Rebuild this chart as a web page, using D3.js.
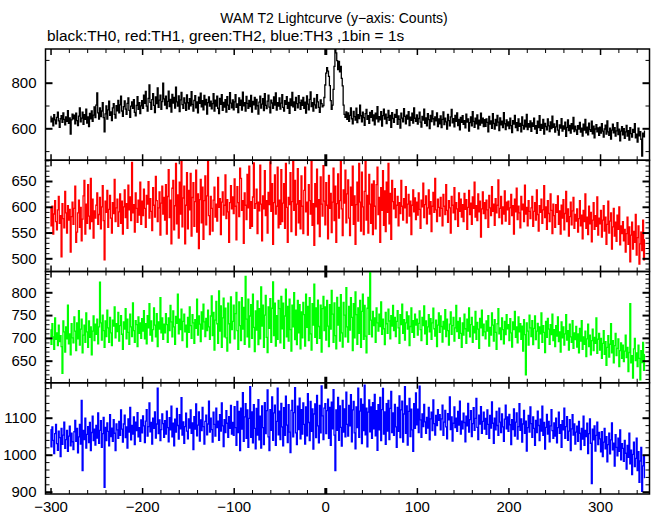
<!DOCTYPE html>
<html><head><meta charset="utf-8">
<script src="https://cdn.jsdelivr.net/npm/d3@7"></script>
<style>
html,body{margin:0;padding:0;background:#fff;}
svg{display:block;font-family:"Liberation Sans",Arial,Helvetica,sans-serif;}
</style></head><body><svg id="chart" width="652" height="515"></svg>
<script>
// ---- data (1 bin = 1 s, first bin at startTime) ----
const startTime = -300;
const th0 = [
652,628,645,611,660,637,619,648,671,633,604,642,655,626,668,639,615,650,631,677,622,646,575,637,662,
641,658,620,667,634,612,653,689,628,645,671,617,660,639,684,623,650,607,665,642,676,631,658,694,647,
702,755,668,640,689,651,676,712,647,585,663,698,640,681,719,657,672,634,690,708,661,645,699,677,722,
668,703,741,676,652,695,720,684,661,709,733,679,648,697,716,688,726,670,655,701,739,683,712,664,698,
721,688,745,709,762,697,676,731,790,714,683,726,752,701,669,738,708,777,692,724,745,683,717,798,729,
702,741,686,718,763,695,727,671,749,710,736,689,781,716,697,742,673,725,758,704,688,733,711,679,746,
712,684,730,698,761,705,675,722,743,690,716,668,737,709,754,694,721,681,744,703,727,662,713,738,697,
719,685,708,752,676,723,697,741,688,664,731,705,748,679,714,693,726,671,739,702,683,756,710,690,725,
681,716,748,692,707,669,733,701,724,680,759,698,713,675,740,709,687,722,695,744,671,718,703,736,684,
727,699,662,715,741,689,706,730,678,752,701,686,719,745,693,668,724,711,687,738,702,755,680,712,697,
733,684,710,748,692,675,721,705,739,688,714,666,729,700,757,694,716,679,735,708,690,743,712,683,724,
701,736,688,715,667,742,706,681,727,760,695,712,676,731,703,689,748,716,692,670,725,708,694,700,735,
790,842,866,851,828,787,721,683,702,771,872,946,931,897,858,893,848,871,819,786,702,661,648,672,639,
668,631,657,690,642,619,674,651,636,688,625,660,643,702,655,628,671,647,613,664,683,639,656,622,670,
648,677,633,659,615,666,642,695,628,651,637,673,610,656,684,640,662,621,648,679,635,657,604,669,643,
626,661,648,682,617,654,639,601,667,645,628,686,652,619,658,640,673,612,649,635,667,623,690,644,630,
659,618,643,671,627,605,652,636,684,622,646,611,664,638,599,657,629,676,642,615,650,633,668,608,641,
620,654,603,639,672,616,645,628,597,661,634,611,650,683,624,642,606,657,630,668,612,639,593,648,626,
655,617,634,602,662,627,641,588,625,650,611,673,630,604,644,620,659,598,636,614,667,623,645,607,638,
609,641,626,585,652,618,633,600,664,621,596,639,612,657,627,590,646,615,631,603,669,620,594,637,611,
628,599,645,612,581,634,618,657,603,625,590,641,609,622,584,650,613,597,636,606,661,594,620,605,632,
587,624,609,645,596,612,578,631,603,656,591,617,600,639,575,622,608,593,641,611,586,628,599,653,604,
619,583,606,634,592,570,615,601,642,588,611,596,627,565,604,637,590,613,579,620,598,648,586,609,593,
574,612,597,626,583,601,566,618,592,639,580,605,571,623,594,587,631,576,609,558,597,616,584,602,569,
605,579,620,588,561,597,614,575,632,584,569,601,553,592,618,580,603,566,589,625,572,596,545,588,607,
571,598,556,584,613,566,590,548,603,577,561,595,582,620,558,574,539,601,567,585,552,478,579,563,588
];
const th1 = [
598,563,601,547,586,612,571,555,594,620,568,583,503,606,577,559,630,588,549,602,574,595,512,581,609,
566,597,640,531,551,588,613,560,599,534,576,621,651,547,605,568,643,582,557,655,571,615,539,592,578,
603,627,566,585,618,557,600,641,573,497,611,589,632,560,595,622,578,549,608,587,653,571,598,615,562,
590,625,568,611,547,600,633,579,606,558,642,594,619,573,686,588,604,551,627,597,570,613,584,648,566,
611,583,634,597,560,622,605,649,578,616,591,554,637,603,580,659,612,571,598,629,545,607,640,586,618,
574,643,547,620,672,579,613,528,636,651,555,602,684,567,623,539,648,586,689,561,617,640,528,603,666,
557,632,594,665,543,618,647,562,610,671,551,625,519,614,653,569,638,537,612,660,565,621,688,583,546,
620,597,553,613,638,580,605,572,657,599,616,546,609,629,584,603,662,577,614,590,531,608,641,596,619,
587,654,601,536,639,608,581,675,655,593,612,529,627,603,575,663,598,679,558,610,562,619,685,597,606,
634,548,609,592,681,605,534,621,596,670,583,612,549,628,604,687,591,645,527,608,662,586,601,677,559,
613,566,672,571,607,645,558,684,599,531,618,604,666,552,610,690,593,651,545,605,674,569,612,557,660,
601,548,632,677,590,609,545,643,612,586,688,564,606,525,645,600,673,567,614,542,658,605,582,680,611,
565,647,603,538,661,597,626,550,609,675,573,640,531,606,664,578,612,688,596,544,633,607,671,569,625,
652,578,544,638,603,679,566,621,527,604,648,572,684,609,553,667,600,546,630,690,574,622,549,663,605,
568,644,546,650,601,557,643,677,585,618,531,637,593,670,564,631,552,648,589,684,567,626,537,651,610,
596,635,579,603,620,563,608,587,651,601,574,616,598,639,569,605,624,582,611,546,603,633,590,617,575,
609,584,627,595,558,613,600,646,579,604,621,567,598,633,586,610,552,601,628,589,655,594,571,615,599,
582,618,597,563,624,601,585,643,593,570,612,598,549,620,603,588,637,575,608,596,562,627,591,615,580,
604,571,626,595,614,556,599,632,585,607,566,619,597,648,580,602,573,625,590,611,541,596,629,587,608,
577,613,594,560,622,598,583,639,591,605,564,616,588,603,652,579,597,620,567,600,586,631,572,609,594,
611,566,598,624,583,602,547,615,590,636,575,601,588,559,620,594,605,571,642,586,599,563,612,591,577,
598,620,562,591,608,574,633,585,553,602,589,615,568,594,641,579,600,556,612,587,571,625,593,548,605,
583,560,604,589,621,566,592,547,603,578,614,555,587,630,571,596,543,581,609,565,592,618,558,585,572,
596,551,577,612,563,584,538,593,571,625,558,580,546,601,567,589,532,574,608,556,583,562,619,545,578,
567,593,541,574,602,553,580,527,566,611,549,572,588,518,561,597,543,570,533,584,556,600,526,563,548,
571,534,556,512,548,580,527,561,493,545,570,518,552,531,585,506,540,563,489,528,551,515,574,497,536
];
const th2 = [
718,686,731,702,675,744,697,711,683,728,692,705,681,622,737,713,669,724,698,772,687,709,663,731,700,
689,746,715,672,733,698,760,684,719,741,667,706,728,690,755,713,679,737,701,724,663,715,748,694,730,
708,741,687,724,822,733,695,750,716,679,737,703,761,722,690,745,711,683,739,726,768,700,731,714,756,
693,727,749,708,675,735,719,764,698,741,712,686,752,724,703,777,716,690,738,729,681,746,710,733,699,
742,715,760,698,731,687,749,722,775,706,737,693,718,766,728,702,753,681,735,719,788,711,744,697,730,
711,753,729,690,744,716,771,735,702,759,724,686,747,732,796,709,741,718,763,694,736,752,713,728,680,
745,712,768,727,699,751,733,688,740,721,785,706,748,730,692,757,719,774,735,703,743,716,761,724,697,
748,792,705,756,673,739,780,731,688,803,715,770,679,744,787,702,765,700,671,776,731,689,790,718,736,
772,698,753,800,716,675,779,727,694,788,719,767,686,835,741,702,785,680,748,773,699,796,723,670,759,
717,781,685,764,698,812,726,772,679,750,793,701,668,768,721,786,690,765,823,705,776,682,749,697,782,
764,689,791,720,776,677,748,807,702,769,693,785,718,671,772,724,799,696,761,685,782,711,773,676,757,
700,778,751,682,796,723,769,694,788,709,673,775,728,818,701,766,688,783,725,699,772,669,764,791,716,
768,695,782,726,681,773,719,804,752,690,777,705,676,789,728,767,693,795,711,680,778,750,702,810,724,
691,769,717,788,745,672,775,700,801,751,686,766,710,782,679,758,796,697,771,704,667,765,789,708,848,
739,702,758,727,744,690,766,733,715,752,725,779,708,741,720,685,756,731,710,763,737,698,749,726,771,
716,745,703,736,760,722,688,751,729,774,710,740,695,733,757,719,748,683,725,766,712,738,701,752,728,
741,706,732,759,718,694,745,727,770,709,737,686,724,751,713,742,697,733,765,720,704,739,681,728,755,
712,748,725,691,736,719,762,703,741,716,684,730,757,708,727,745,693,722,771,714,736,699,744,710,679,
733,706,752,720,688,741,715,766,702,729,745,690,725,711,758,697,734,719,677,743,722,761,705,730,713,
698,737,715,749,682,723,706,755,728,693,740,712,675,731,764,709,722,696,744,718,687,736,707,751,720,
729,694,742,711,680,735,718,758,701,724,689,746,713,731,697,726,671,740,707,619,733,715,684,750,722,
703,738,685,721,748,696,715,732,677,724,709,755,690,727,712,668,736,701,743,719,686,729,707,752,694,
718,681,727,704,746,692,713,669,735,700,724,684,709,751,695,716,673,730,702,690,738,677,711,696,725,
680,709,667,721,693,738,675,702,686,715,659,698,730,681,706,663,694,719,672,701,688,744,666,697,710,
673,699,655,688,716,664,692,640,679,705,658,686,731,667,694,645,683,710,661,677,698,637,672,689,655,
684,648,671,706,657,679,626,668,775,645,661,612,676,699,650,667,637,684,655,608,672,646,690,629,663
];
const th3 = [
1068,1021,1075,1039,1003,1057,1082,1030,1012,1064,1046,995,1071,1028,1053,1088,1017,1041,1066,1009,1050,1077,1024,1058,1035,
1014,1062,1093,1036,1071,1005,1048,1082,1029,1147,957,1066,1041,1099,1018,1055,1076,1033,1087,1011,1060,1104,1038,1069,1026,
1079,1045,1113,1031,1066,1092,1020,1057,1101,912,1074,1038,1086,1063,1024,1108,1049,1072,1036,1095,1058,1011,1083,1067,1044,
1090,1052,1121,1069,1034,1083,1107,1046,1075,1018,1097,1061,1128,1040,1079,1056,1102,1027,1088,1065,1114,1048,1073,1036,1094,
1059,1105,1078,1033,1091,1122,1050,1076,1140,1062,1087,1029,1099,1071,1116,1045,1083,1180,1057,1094,1038,1068,1110,1084,1047,
1092,1056,1118,1073,1035,1100,1067,1131,1048,1085,1024,1096,1061,1125,1079,1042,1108,1070,1154,1053,1089,1031,1076,1112,1064,
1043,1097,1072,1121,1058,1086,1014,1103,1069,1137,1051,1080,1116,1037,1094,1065,1128,1076,1029,1090,1107,1054,1083,1145,1061,
1099,1068,1034,1115,1082,1050,1126,1073,1091,1039,1108,1064,1140,1078,1022,1095,1060,1119,1085,1047,1103,1071,1133,1056,1087,
1052,1130,1073,1025,1144,1060,1117,1011,1126,1069,1168,1036,1102,1138,1044,1121,1020,1098,1184,1047,1116,1032,1135,1071,1016,
1125,1053,1149,1040,1104,1018,1132,1073,1027,1141,1057,1119,1175,1048,1011,1122,1066,1156,1039,1113,1134,1025,1090,1180,1054,
1118,1041,1139,1075,1024,1127,1052,1158,1080,1033,1135,1061,1006,1120,1147,1048,1114,1181,1059,1027,1131,1068,1153,1043,1122,
1056,1140,1082,1029,1129,1051,1165,1087,1038,1144,1063,1124,1015,1110,1137,1046,1160,1078,1032,1133,1059,1186,1105,1041,1126,
1138,1057,1119,1150,1044,1128,1025,1142,1070,1176,1053,957,1121,1066,1155,1039,1132,1074,1023,1147,1061,1124,1048,1169,1082,
1050,1133,1078,1162,1035,1121,1144,1059,1016,1129,1073,1180,1047,1118,1151,1030,1136,1065,1188,1054,1126,1021,1115,1148,1062,
1129,1044,1141,1070,1163,1051,1119,1012,1135,1067,1155,1038,1122,1179,1056,1116,1028,1138,1064,1147,1041,1125,1171,1060,1113,
1052,1136,1075,1020,1128,1063,1159,1046,1121,1145,1034,1110,1184,1058,1132,1026,1117,1152,1049,1123,1067,1009,1138,1071,1167,
1081,1123,1060,1185,1094,1047,1110,1076,1136,1089,1058,1101,1072,1128,1040,1097,1115,1065,1148,1084,1053,1106,1079,1122,1093,
1108,1067,1097,1134,1052,1088,1120,1075,1043,1111,1094,1156,1068,1102,1037,1085,1129,1073,1099,1063,1117,1080,1145,1056,1091,
1070,1112,1087,1035,1104,1078,1139,1061,1095,1119,1049,1084,1127,1066,1098,1152,1074,1041,1107,1083,1130,1058,1090,1115,1069,
1098,1055,1121,1082,1044,1106,1072,1143,1085,1031,1099,1067,1117,1079,1052,1126,1088,1060,1110,1075,1036,1096,1134,1070,1102,
1063,1109,1081,1027,1095,1068,1124,1050,1088,1113,1042,1076,1138,1066,1097,1034,1083,1120,1058,1091,1010,1073,1106,1061,1129,
1084,1047,1102,1071,1025,1093,1060,1118,1079,1038,1096,1064,1131,1052,1087,1015,1074,1109,1056,1090,1035,1078,1122,1065,1044,
1086,1050,1099,1032,1073,1115,1058,1081,1020,1092,1067,1126,1044,1076,1103,1039,1064,1095,1011,1070,1108,1053,1083,1029,1061,
1077,1036,1090,1058,1014,1071,1042,1104,1025,1066,1049,1085,1003,1057,1097,1031,922,1069,1040,1078,1010,1052,1088,1027,1060,
1043,1008,1062,995,1034,1071,1016,1049,981,1027,1058,1002,1040,1086,1013,1031,969,1054,1020,997,1045,1009,1067,986,1030,
1017,982,1039,1004,961,1025,993,1058,975,1012,946,1001,1034,968,990,1045,957,1008,925,983,1020,901,970,996,938
];
const seriesNames = ["TH0", "TH1", "TH2", "TH3"];
const seriesColors = ["#000000", "#ff0000", "#00ff00", "#0000ff"];
const yDomains = [[459.9, 947.8], [474.4, 690.3], [601.6, 845.6], [893.8, 1194.5]];
const yMajorTicks = [[600, 800], [500, 550, 600, 650], [650, 700, 750, 800], [900, 1000, 1100]];
const yMinorStep = [100, 10, 10, 20];
const xDomain = [-305.5, 354];
const xMajorTicks = [-300, -200, -100, 0, 100, 200, 300];
const xMinorStep = 20;
const titleText = "WAM T2 Lightcurve (y\u2212axis: Counts)";
const subtitleText = "black:TH0, red:TH1, green:TH2, blue:TH3 ,1bin = 1s";

// ---- layout ----
const plotLeft = 45.5, plotRight = 649.5, plotTop = 49, plotBottom = 494;
const series = [th0, th1, th2, th3];
const nPanels = series.length;
const panelH = (plotBottom - plotTop) / nPanels;
const FONT = '"Liberation Sans", Arial, Helvetica, sans-serif';

const svg = d3.select("#chart");
const x = d3.scaleLinear().domain(xDomain).range([plotLeft, plotRight]);

function minorTicks(domain, step, majors) {
  const lo = Math.ceil(Math.min(domain[0], domain[1]) / step) * step;
  const hi = Math.max(domain[0], domain[1]);
  return d3.range(lo, hi + 1e-9, step).filter(v => !majors.includes(v));
}
function addAxis(axis, tx, ty, width) {
  const a = svg.append("g").attr("transform", `translate(${tx},${ty})`).call(axis);
  a.select(".domain").remove();
  a.attr("font-family", FONT).attr("font-size", 15);
  a.selectAll(".tick line").attr("stroke", "#000").attr("stroke-width", width);
  a.selectAll(".tick text").attr("fill", "#000");
  return a;
}

const xMinor = minorTicks(xDomain, xMinorStep, xMajorTicks);

series.forEach((vals, k) => {
  const y0 = plotTop + k * panelH, y1 = y0 + panelH;
  const y = d3.scaleLinear().domain(yDomains[k]).range([y1, y0]);

  svg.append("clipPath").attr("id", "clip" + k).append("rect")
    .attr("x", plotLeft).attr("y", y0).attr("width", plotRight - plotLeft).attr("height", panelH);

  const line = d3.line().x((d, i) => x(startTime + i)).y(d => y(d)).curve(d3.curveStep);
  svg.append("path").datum(vals)
    .attr("clip-path", `url(#clip${k})`)
    .attr("fill", "none")
    .attr("stroke", seriesColors[k])
    .attr("stroke-width", 1.3)
    .attr("stroke-linejoin", "miter")
    .attr("d", line);

  // y axes (left labelled, right mirror), ticks pointing inward
  const yMin = minorTicks(yDomains[k], yMinorStep[k], yMajorTicks[k]);
  addAxis(d3.axisLeft(y).tickValues(yMajorTicks[k]).tickSize(-7).tickPadding(9).tickFormat(d3.format("d")), plotLeft, 0, 2);
  addAxis(d3.axisLeft(y).tickValues(yMin).tickSize(-4).tickFormat(""), plotLeft, 0, 1);
  addAxis(d3.axisRight(y).tickValues(yMajorTicks[k]).tickSize(-7).tickFormat(""), plotRight, 0, 2);
  addAxis(d3.axisRight(y).tickValues(yMin).tickSize(-4).tickFormat(""), plotRight, 0, 1);

  // x ticks on top and bottom of every panel
  addAxis(d3.axisTop(x).tickValues(xMajorTicks).tickSize(-6).tickFormat(""), 0, y0, d => d === 0 ? 3 : 1.5);
  addAxis(d3.axisTop(x).tickValues(xMinor).tickSize(-4).tickFormat(""), 0, y0, 1);
  const isLast = k === nPanels - 1;
  addAxis(d3.axisBottom(x).tickValues(xMajorTicks).tickSize(-6).tickPadding(7)
    .tickFormat(isLast ? d3.format("d") : ""), 0, y1, d => d === 0 ? 3 : 1.5);
  addAxis(d3.axisBottom(x).tickValues(xMinor).tickSize(-4).tickFormat(""), 0, y1, 1);

  svg.append("rect")
    .attr("x", plotLeft).attr("y", y0).attr("width", plotRight - plotLeft).attr("height", panelH)
    .attr("fill", "none").attr("stroke", "#000").attr("stroke-width", 1.5);
});

svg.append("text").attr("x", 334).attr("y", 23).attr("text-anchor", "middle")
  .attr("font-family", FONT).attr("font-size", 14).attr("fill", "#000").text(titleText);
svg.append("text").attr("x", 47).attr("y", 41).attr("text-anchor", "start")
  .attr("font-family", FONT).attr("font-size", 15.4).attr("fill", "#000").text(subtitleText);
</script></body></html>
